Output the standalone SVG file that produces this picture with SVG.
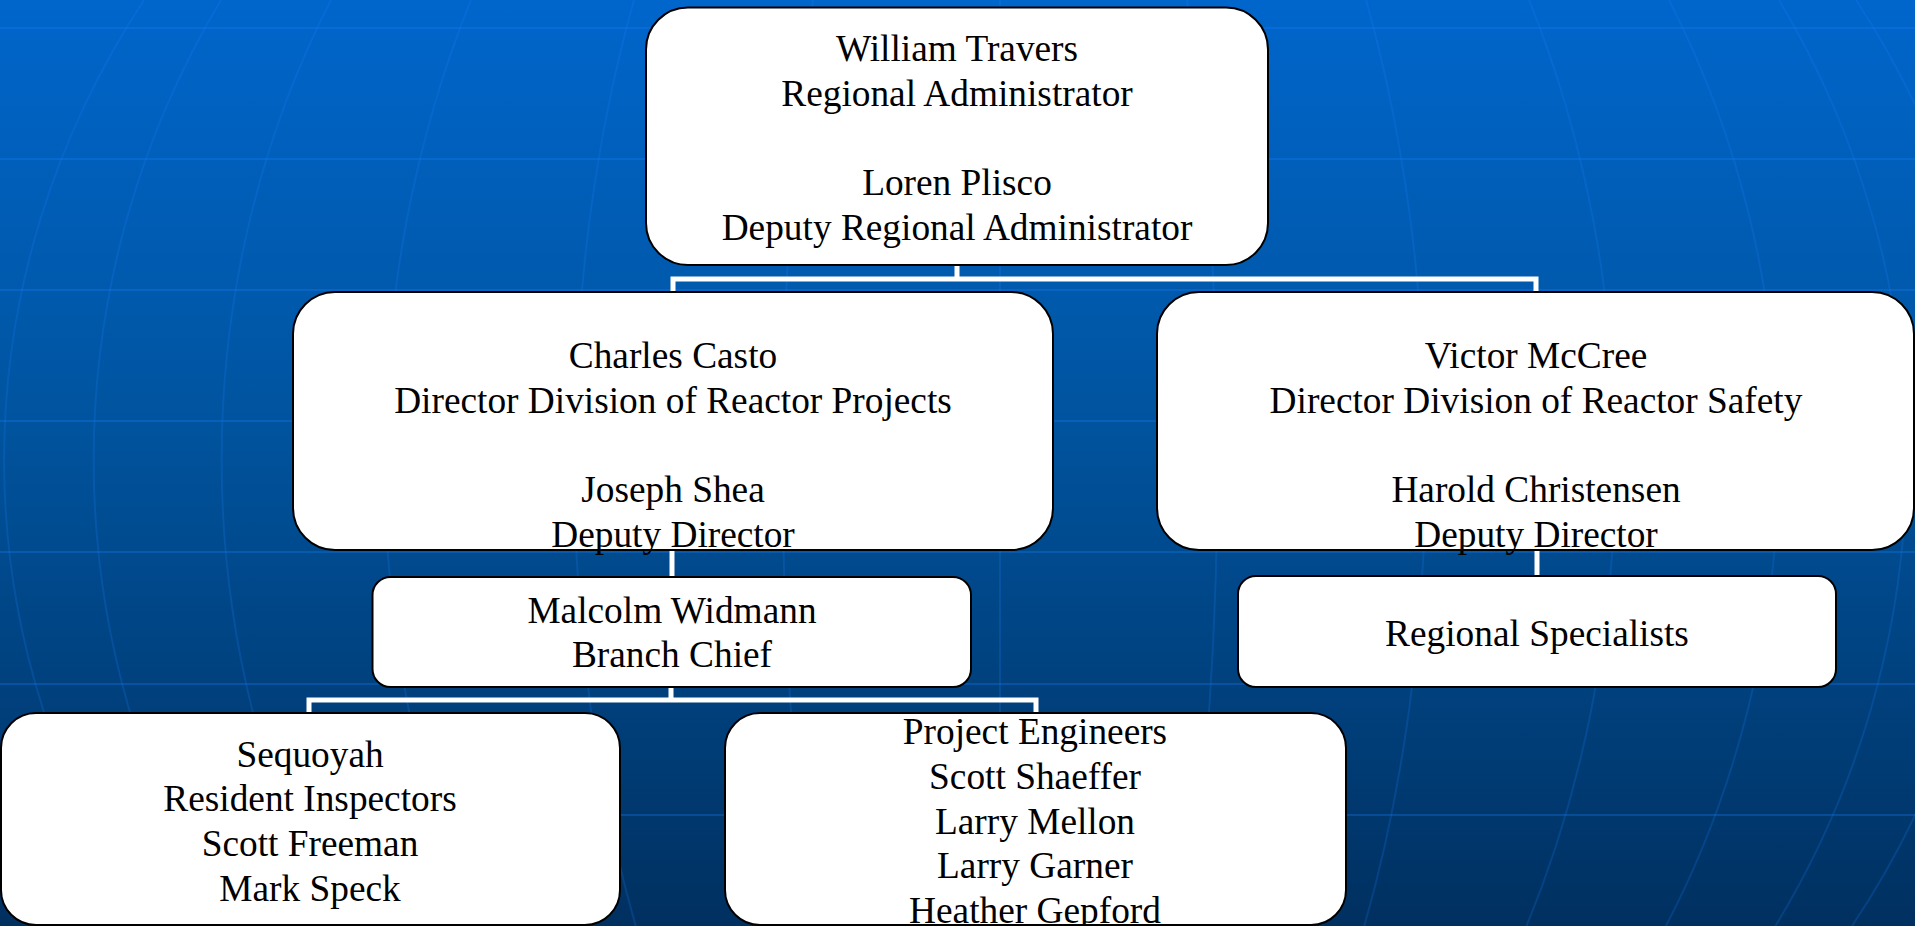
<svg xmlns="http://www.w3.org/2000/svg" width="1915" height="926" viewBox="0 0 1915 926">
  <defs>
    <linearGradient id="bg" x1="0" y1="0" x2="0" y2="1">
      <stop offset="0" stop-color="#0066CC"/>
      <stop offset="0.45" stop-color="#00549F"/>
      <stop offset="1" stop-color="#003060"/>
    </linearGradient>
  </defs>
  <style>
    .grid { fill: none; stroke: #1a80ff; stroke-opacity: 0.28; stroke-width: 2; }
    .meridian { fill: none; stroke: #1a80ff; stroke-opacity: 0.2; stroke-width: 2; }
    .box { fill: #ffffff; stroke: #000000; stroke-width: 2; }
    .conn { fill: none; stroke: #ffffff; stroke-width: 5; stroke-linejoin: miter; }
    .t { font-family: "Liberation Serif", "Times New Roman", serif; font-size: 37.33px; fill: #000000; text-anchor: middle; }
  </style>
  <rect x="0" y="0" width="1915" height="926" fill="url(#bg)"/>
  <g id="background-grid">
    <path class="grid" d="M0 28H1915M0 159H1915M0 290H1915M0 421H1915M0 552H1915M0 684H1915M0 815H1915"/>
    <path class="meridian" d="M1000 0V926"/>
    <path class="meridian" d="M1187 0A217.6 900 0 0 1 1186.1 926M1366 0A425.8 900 0 0 1 1364.3 926M1529 0A615.5 900 0 0 1 1526.5 926M1669 0A778.4 900 0 0 1 1665.9 926M1779 0A906.3 900 0 0 1 1775.4 926M1856 0A995.9 900 0 0 1 1852 926"/>
    <path class="meridian" d="M813 0A217.6 900 0 0 0 813.9 926M634 0A425.8 900 0 0 0 635.7 926M471 0A615.5 900 0 0 0 473.5 926M331 0A778.4 900 0 0 0 334.1 926M221 0A906.3 900 0 0 0 224.6 926M144 0A995.9 900 0 0 0 148 926"/>
  </g>
  <g id="connectors">
    <path class="conn" d="M957 265V279M673 292V279H1536V292"/>
    <path class="conn" d="M672 550V577"/>
    <path class="conn" d="M1537 550V576"/>
    <path class="conn" d="M671 687V700M309 713V700H1036V713"/>
  </g>
  <g id="node-travers">
    <rect class="box" x="646" y="7.5" width="622" height="257.5" rx="42" ry="42"/>
    <text class="t" x="957" y="60.7">William Travers</text>
    <text class="t" x="957" y="105.5">Regional Administrator</text>
    <text class="t" x="957" y="195">Loren Plisco</text>
    <text class="t" x="957" y="239.8">Deputy Regional Administrator</text>
  </g>
  <g id="node-casto">
    <rect class="box" x="293" y="292" width="760" height="258" rx="42" ry="42"/>
    <text class="t" x="673" y="367.8">Charles Casto</text>
    <text class="t" x="673" y="412.6">Director Division of Reactor Projects</text>
    <text class="t" x="673" y="502.2">Joseph Shea</text>
    <text class="t" x="673" y="547">Deputy Director</text>
  </g>
  <g id="node-mccree">
    <rect class="box" x="1157" y="292" width="757" height="258" rx="42" ry="42"/>
    <text class="t" x="1536" y="367.8">Victor McCree</text>
    <text class="t" x="1536" y="412.6">Director Division of Reactor Safety</text>
    <text class="t" x="1536" y="502.2">Harold Christensen</text>
    <text class="t" x="1536" y="547">Deputy Director</text>
  </g>
  <g id="node-widmann">
    <rect class="box" x="372.5" y="577" width="598.5" height="110" rx="18" ry="18"/>
    <text class="t" x="672" y="623.3">Malcolm Widmann</text>
    <text class="t" x="672" y="667">Branch Chief</text>
  </g>
  <g id="node-specialists">
    <rect class="box" x="1238" y="576" width="598" height="111" rx="18" ry="18"/>
    <text class="t" x="1537" y="646">Regional Specialists</text>
  </g>
  <g id="node-sequoyah">
    <rect class="box" x="1" y="713" width="619" height="212" rx="35" ry="35"/>
    <text class="t" x="310" y="766.5">Sequoyah</text>
    <text class="t" x="310" y="811.3">Resident Inspectors</text>
    <text class="t" x="310" y="856.1">Scott Freeman</text>
    <text class="t" x="310" y="900.9">Mark Speck</text>
  </g>
  <g id="node-engineers">
    <rect class="box" x="725" y="713" width="621" height="212" rx="35" ry="35"/>
    <text class="t" x="1035" y="744">Project Engineers</text>
    <text class="t" x="1035" y="788.8">Scott Shaeffer</text>
    <text class="t" x="1035" y="833.6">Larry Mellon</text>
    <text class="t" x="1035" y="878.4">Larry Garner</text>
    <text class="t" x="1035" y="923.2">Heather Gepford</text>
  </g>
</svg>
